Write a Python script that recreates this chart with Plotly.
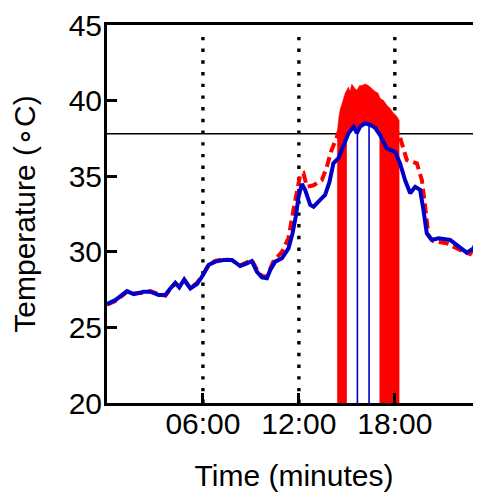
import numpy as np
import plotly.graph_objects as go

# ---- data (time in minutes, temperature in deg C) ----
blue_t = [0, 0.52, 1.25, 1.67, 2.29, 2.71, 3.23, 3.65, 3.96, 4.27, 4.52, 4.83, 5.21, 5.63,
          5.94, 6.35, 6.77, 7.29, 7.81, 8.33, 8.75, 9.06, 9.38, 9.69, 10.0, 10.21, 10.52,
          10.94, 11.35, 11.6, 11.8, 11.98, 12.19, 12.39, 12.71, 12.92, 13.33, 13.64, 13.91,
          14.16, 14.48, 14.79, 15.1, 15.42, 15.63, 15.83, 16.14, 16.46, 16.77, 17.08, 17.5,
          18.02, 18.33, 18.64, 18.96, 19.27, 19.58, 19.79, 20.0, 20.31, 20.73, 21.46, 21.88,
          22.5, 22.92, 23.39]
blue_v = [26.55, 26.8, 27.4, 27.2, 27.36, 27.36, 27.14, 27.14, 27.58, 27.95, 27.65, 28.18,
          27.58, 27.87, 28.35, 29.13, 29.35, 29.46, 29.46, 29.06, 29.24, 29.39, 28.68, 28.31,
          28.25, 28.8, 29.35, 29.57, 30.23, 31.2, 32.3, 33.65, 34.48, 34.1, 33.1, 32.98,
          33.43, 33.76, 34.6, 35.85, 36.2, 37.06, 37.84, 38.28, 37.85, 38.28, 38.5, 38.4,
          38.2, 37.72, 36.84, 36.6, 35.85, 34.75, 33.87, 34.3, 34.1, 32.77, 31.22, 30.78,
          30.89, 30.78, 30.45, 29.94, 30.23, 31.3]

red_t = [0, 0.52, 1.25, 1.67, 2.29, 2.71, 3.23, 3.65, 3.96, 4.27, 4.52, 4.83, 5.21, 5.63,
         5.94, 6.35, 6.77, 7.29, 7.81, 8.33, 8.75, 9.06, 9.38, 9.69, 10.0, 10.4, 10.94,
         11.35, 11.66, 12.08, 12.29, 12.5, 12.92, 13.44, 13.75, 14.0, 14.3, 14.6, 15.0,
         15.5, 16.0, 16.5, 17.0, 17.5, 18.0, 18.27, 18.44, 18.75, 19.38, 19.69, 19.9, 20.1,
         20.42, 21.25, 22.08, 22.7, 23.23, 23.39]
red_v = [26.5, 26.75, 27.35, 27.25, 27.3, 27.4, 27.2, 27.1, 27.55, 27.9, 27.7, 28.1, 27.6,
         27.95, 28.4, 29.1, 29.4, 29.5, 29.45, 29.1, 29.3, 29.45, 28.8, 28.4, 28.35, 29.35,
         30.0, 30.9, 32.77, 35.08, 35.2, 34.3, 34.4, 34.75, 35.63, 36.6, 37.4, 38.2, 38.9,
         39.2, 39.4, 39.3, 39.0, 38.5, 38.0, 37.8, 37.17, 36.07, 35.85, 34.75, 32.98, 31.1,
         30.7, 30.56, 30.12, 29.85, 30.78, 31.0]

# heater signal envelope (upper edge of the dense red band)
env_t = [14.41, 14.5, 14.58, 14.7, 14.9, 15.1, 15.2, 15.31, 15.5, 15.63, 15.8, 15.94, 16.15,
         16.35, 16.55, 16.77, 16.95, 17.08, 17.3, 17.5, 17.7, 17.92, 18.1, 18.27]
env_v = [37.95, 38.9, 39.4, 39.8, 40.5, 40.9, 40.6, 41.1, 40.8, 40.7, 41.0, 41.0, 41.1,
         41.0, 40.8, 40.6, 40.5, 40.15, 40.0, 39.7, 39.5, 39.16, 39.0, 38.7]

gap_start, gap_end = 15.0, 17.04        # heater-off interval inside the band
blue_marks_t = [15.66, 16.39]           # thin blue vertical markers
marker_times = [6, 12, 18]              # dotted vertical lines
threshold = 37.8                        # horizontal reference line

tick_vals = [6, 12, 18]
tick_text = ["06:00", "12:00", "18:00"]
y_ticks = [20, 25, 30, 35, 40, 45]

x_max = 23.39
y_min, y_max = 20, 45

BLUE = "rgb(0,0,200)"
RED = "rgb(255,0,0)"

fig = go.Figure()

# threshold line
fig.add_trace(go.Scatter(x=[0, x_max], y=[threshold, threshold], mode="lines",
                         line=dict(color="black", width=1.5), hoverinfo="skip"))
# dotted vertical lines
for t in marker_times:
    fig.add_trace(go.Scatter(x=[t, t], y=[y_min, 44.4], mode="lines",
                             line=dict(color="black", width=3.4, dash="3.4px,8.3px"),
                             hoverinfo="skip"))
# red band
fig.add_trace(go.Scatter(x=[env_t[0]] + env_t + [env_t[-1]],
                         y=[y_min] + env_v + [y_min], mode="lines", fill="toself",
                         fillcolor=RED, line=dict(color=RED, width=0.5), hoverinfo="skip"))
# white gap below blue curve
gap_t = [gap_start] + [t for t in blue_t if gap_start < t < gap_end] + [gap_end]
gap_v = list(np.interp(gap_t, blue_t, blue_v))
fig.add_trace(go.Scatter(x=[gap_start] + gap_t + [gap_end], y=[y_min] + gap_v + [y_min],
                         mode="lines", fill="toself", fillcolor="white",
                         line=dict(color="white", width=0), hoverinfo="skip"))
# thin blue markers
for t in blue_marks_t:
    fig.add_trace(go.Scatter(x=[t, t], y=[y_min, float(np.interp(t, blue_t, blue_v))],
                             mode="lines", line=dict(color=BLUE, width=1.6),
                             hoverinfo="skip"))
# red dashed curve
fig.add_trace(go.Scatter(x=red_t, y=red_v, mode="lines",
                         line=dict(color=RED, width=4, dash="10px,5px")))
# blue curve
fig.add_trace(go.Scatter(x=blue_t, y=blue_v, mode="lines",
                         line=dict(color=BLUE, width=4)))

font = dict(family="Liberation Sans, Arial", size=30, color="black")
fig.update_layout(
    width=473, height=489, showlegend=False,
    margin=dict(l=99, r=0, t=17, b=94, autoexpand=False),
    paper_bgcolor="white", plot_bgcolor="white",
    font=font,
    xaxis=dict(range=[0, x_max], tickvals=tick_vals, ticktext=tick_text,
               ticks="inside", ticklen=10, tickwidth=3, tickcolor="black",
               showline=True, linewidth=3, linecolor="black", mirror=True,
               showgrid=False, zeroline=False, tickfont=font, automargin=False,
               ticklabelstandoff=-8,
               title=dict(text="Time (minutes)", font=font, standoff=26)),
    yaxis=dict(range=[y_min, y_max], tickvals=y_ticks,
               ticks="inside", ticklen=10, tickwidth=3, tickcolor="black",
               showline=True, linewidth=3, linecolor="black", mirror=False,
               showgrid=False, zeroline=False, tickfont=font, automargin=False,
               ticklabelstandoff=-4,
               title=dict(text="Temperature (\u2218C)", font=font, standoff=25)),
)

fig.write_html("out.html")
